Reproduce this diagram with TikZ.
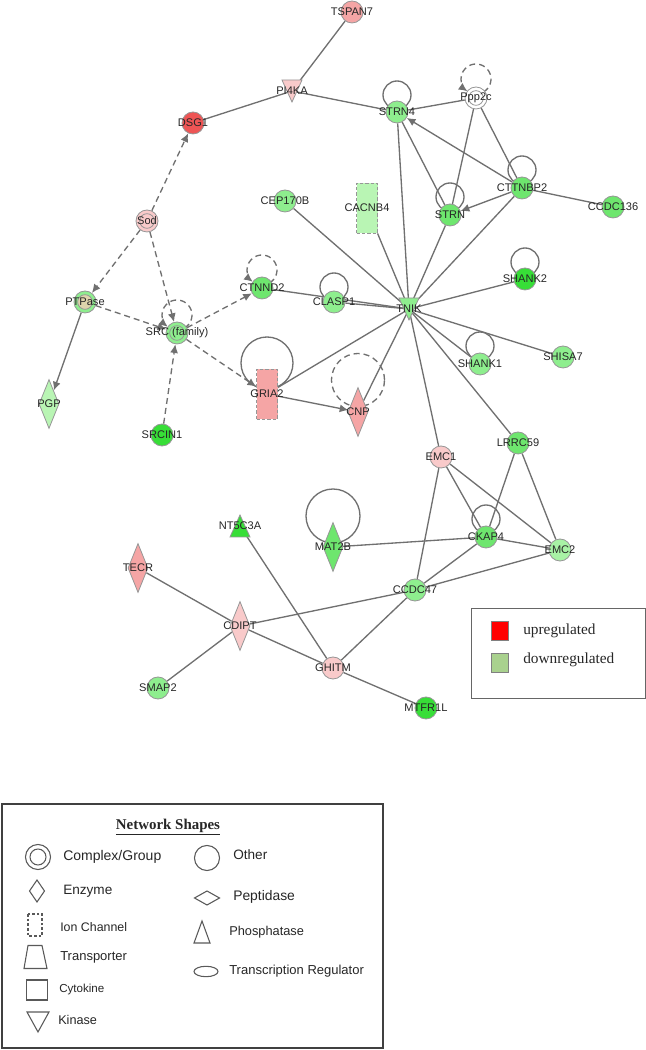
\documentclass[tikz,border=0pt]{standalone}
\usepackage{fontspec}
\setmainfont{Liberation Sans}
\newfontfamily\tmsfont{Liberation Serif}
\usetikzlibrary{shapes.geometric,arrows.meta,calc}
\pgfdeclarelayer{bg}\pgfdeclarelayer{shp}
\pgfsetlayers{bg,shp,main}
\definecolor{edgec}{RGB}{112,112,112}
\definecolor{bordc}{RGB}{150,150,150}
\definecolor{gA}{RGB}{142,238,142}
\definecolor{gB}{RGB}{110,230,110}
\definecolor{gC}{RGB}{55,222,55}
\definecolor{gP}{RGB}{185,245,180}
\definecolor{rA}{RGB}{249,202,202}
\definecolor{rB}{RGB}{245,165,165}
\definecolor{rC}{RGB}{238,85,85}
\definecolor{cplxtan}{RGB}{222,212,172}
\definecolor{legG}{RGB}{169,209,142}
\newcommand{\zw}[1]{\makebox[0pt]{#1}}
\begin{document}
\begin{tikzpicture}[x=0.75pt,y=0.75pt,
  lab/.style={font=\fontsize{8.3}{9}\selectfont, text=black!85, inner sep=0pt},
  gene/.style={lab, circle, draw=bordc, line width=0.6pt, minimum size=16.5pt},
  cplx/.style={gene, path picture={\draw[bordc, line width=0.6pt, fill=#1] (path picture bounding box.center) circle (5.5pt);}},
  enz/.style={lab, diamond, draw=bordc, line width=0.6pt, minimum width=15pt, minimum height=36.75pt},
  ionc/.style={lab, rectangle, draw=bordc, dash pattern=on 2.5pt off 1.5pt, line width=0.6pt, minimum width=15.75pt, minimum height=37.5pt},
  tri/.style={lab, rectangle, minimum width=15pt, minimum height=16.5pt},
  trishape/.style={draw=bordc, line width=0.6pt},
  edge/.style={draw=edgec, line width=1pt},
  dedge/.style={edge, dash pattern=on 4.5pt off 3pt},
  arr/.style={-{Latex[length=6.5pt,width=6pt]}},
  lgs/.style={draw=black!65, line width=0.8pt},
  lgt/.style={anchor=west, inner sep=0pt, text=black!85},
]
\useasboundingbox (0,0) rectangle (646,1050);

% ---------- nodes ----------
\node[gene, fill=rB] (TSPAN7) at (352,1038) {\zw{TSPAN7}};
\node[tri] (PI4KA) at (292,959) {\zw{PI4KA}};
\node[gene, fill=rC] (DSG1) at (193,927) {\zw{DSG1}};
\node[cplx=rA, fill=rA] (Sod) at (147,829) {\zw{Sod}};
\node[gene, fill=gA] (STRN4) at (397,938) {\zw{STRN4}};
\node[cplx=white, fill=white] (Ppp2c) at (476,952) {\zw{Ppp2c}};
\node[gene, fill=gA] (CEP170B) at (285,849) {\zw{CEP170B}};
\node[ionc, fill=gP] (CACNB4) at (367,842) {\zw{CACNB4}};
\node[gene, fill=gB] (STRN) at (450,835) {\zw{STRN}};
\node[gene, fill=gB] (CTTNBP2) at (522,862) {\zw{CTTNBP2}};
\node[gene, fill=gB] (CCDC136) at (613,843) {\zw{CCDC136}};
\node[gene, fill=gB] (CTNND2) at (262,762) {\zw{CTNND2}};
\node[gene, fill=gA] (CLASP1) at (334,748) {\zw{CLASP1}};
\node[tri] (TNIK) at (409,741) {\zw{TNIK}};
\node[gene, fill=gC] (SHANK2) at (525,771) {\zw{SHANK2}};
\node[gene, fill=gA] (SHANK1) at (480,686) {\zw{SHANK1}};
\node[gene, fill=gA] (SHISA7) at (563,693) {\zw{SHISA7}};
\node[cplx=cplxtan, fill=gA] (PTPase) at (85,748) {\zw{PTPase}};
\node[cplx=gA, fill=gA] (SRC) at (177,717) {\zw{SRC (family)}};
\node[ionc, fill=rB] (GRIA2) at (267,656) {\zw{GRIA2}};
\node[enz, fill=rB] (CNP) at (358,638) {\zw{CNP}};
\node[enz, fill=gP] (PGP) at (49,646) {\zw{PGP}};
\node[gene, fill=gC] (SRCIN1) at (162,615) {\zw{SRCIN1}};
\node[gene, fill=rA] (EMC1) at (441,593) {\zw{EMC1}};
\node[gene, fill=gB] (LRRC59) at (518,607) {\zw{LRRC59}};
\node[gene, fill=gB] (CKAP4) at (486,513) {\zw{CKAP4}};
\node[gene, fill=gP!60!gA] (EMC2) at (560,500) {\zw{EMC2}};
\node[enz, fill=gB] (MAT2B) at (333,503) {\zw{MAT2B}};
\node[gene, fill=gA] (CCDC47) at (415,460) {\zw{CCDC47}};
\node[tri] (NT5C3A) at (240,524) {\zw{NT5C3A}};
\node[enz, fill=rB] (TECR) at (138,482) {\zw{TECR}};
\node[enz, fill=rA] (CDIPT) at (240,424) {\zw{CDIPT}};
\node[gene, fill=rA] (GHITM) at (333,382) {\zw{GHITM}};
\node[gene, fill=gA] (SMAP2) at (158,362) {\zw{SMAP2}};
\node[gene, fill=gC] (MTFR1L) at (426,342) {\zw{MTFR1L}};

% ---------- triangle shapes ----------
\begin{pgfonlayer}{shp}
\draw[trishape, fill=rA] ($(PI4KA)+(-10,11)$) -- ($(PI4KA)+(10,11)$) -- ($(PI4KA)+(0,-11)$) -- cycle;
\draw[trishape, fill=gA] ($(TNIK)+(-10,11)$) -- ($(TNIK)+(10,11)$) -- ($(TNIK)+(0,-11)$) -- cycle;
\draw[trishape, fill=gC] ($(NT5C3A)+(-10,-11)$) -- ($(NT5C3A)+(10,-11)$) -- ($(NT5C3A)+(0,11)$) -- cycle;
\end{pgfonlayer}

% ---------- edges ----------
\begin{pgfonlayer}{bg}
\draw[edge] (TSPAN7) -- (PI4KA.center);
\draw[edge] (PI4KA.center) -- (DSG1);
\draw[edge] (PI4KA.center) -- (STRN4);
\draw[dedge, arr] (Sod) -- (DSG1);
\draw[dedge, arr] (Sod) -- (PTPase);
\draw[dedge, arr] (Sod) -- (SRC);
\draw[dedge, arr] (PTPase) -- (SRC);
\draw[dedge, arr] (SRCIN1) -- (SRC);
\draw[dedge, arr] (SRC) -- (CTNND2);
\draw[dedge, arr] (SRC) -- (GRIA2);
\draw[edge, arr] (PTPase) -- (PGP);
\draw[edge, arr] (GRIA2) -- (CNP);
\draw[edge, arr] (CTTNBP2) -- (STRN4);
\draw[edge, arr] (CTTNBP2) -- (STRN);
\draw[edge] (Ppp2c) -- (STRN4);
\draw[edge] (Ppp2c) -- (STRN);
\draw[edge] (Ppp2c) -- (CTTNBP2);
\draw[edge] (STRN4) -- (STRN);
\draw[edge] (CTTNBP2) -- (CCDC136);
\foreach \n in {STRN4,STRN,CTTNBP2,CEP170B,CACNB4,CTNND2,CLASP1,SHANK2,SHISA7,SHANK1,LRRC59,EMC1,CNP,GRIA2}
  \draw[edge] (TNIK.center) -- (\n);
\draw[edge] (NT5C3A.center) -- (GHITM);
\draw[edge] (TECR) -- (CDIPT);
\draw[edge] (CDIPT) -- (SMAP2);
\draw[edge] (CDIPT) -- (GHITM);
\draw[edge] (CDIPT) -- (CCDC47);
\draw[edge] (GHITM) -- (CCDC47);
\draw[edge] (GHITM) -- (MTFR1L);
\draw[edge] (MAT2B) -- (CKAP4);
\draw[edge] (CCDC47) -- (EMC1);
\draw[edge] (CCDC47) -- (CKAP4);
\draw[edge] (CCDC47) -- (EMC2);
\draw[edge] (EMC1) -- (CKAP4);
\draw[edge] (EMC1) -- (EMC2);
\draw[edge] (LRRC59) -- (CKAP4);
\draw[edge] (LRRC59) -- (EMC2);
\draw[edge] (CKAP4) -- (EMC2);
% self loops
\draw[edge] ($(STRN4)+(0,17)$) circle (10.5pt);
\draw[edge] ($(STRN)+(0,18)$) circle (10.5pt);
\draw[edge] ($(CTTNBP2)+(0,18)$) circle (10.5pt);
\draw[edge] ($(CLASP1)+(0,15)$) circle (10.5pt);
\draw[edge] ($(SHANK2)+(0,17)$) circle (10.5pt);
\draw[edge] ($(SHANK1)+(0,18)$) circle (10.5pt);
\draw[edge] ($(CKAP4)+(0,18)$) circle (10.5pt);
\draw[edge] ($(GRIA2)+(0,31)$) circle (19.5pt);
\draw[dedge] ($(CNP)+(0,32)$) circle (19.9pt);
\draw[edge] ($(MAT2B)+(0,31)$) circle (20.25pt);
\draw[dedge, arr] ($(CTNND2)+(0,18)+(-60:15)$) arc[start angle=-60, end angle=232, radius=15];
\draw[dedge, arr] ($(SRC)+(0,18)+(-60:15)$) arc[start angle=-60, end angle=232, radius=15];
\draw[dedge, arr] ($(Ppp2c)+(0,19)+(-60:15)$) arc[start angle=-60, end angle=235, radius=15];
\end{pgfonlayer}

% ---------- regulation legend ----------
\draw[draw=black!60, line width=0.7pt] (471,442) rectangle (645,352);
\node[draw=black!50, fill=red, minimum width=12.75pt, minimum height=14.25pt, inner sep=0pt] (upsq) at (499.5,419.5) {};
\node[draw=black!50, fill=legG, minimum width=12.75pt, minimum height=14.25pt, inner sep=0pt] (dnsq) at (499.5,387.5) {};
\node[lgt, font=\tmsfont\fontsize{11.5}{13}\selectfont] (uptxt) at (523,419) {upregulated};
\node[lgt, font=\tmsfont\fontsize{11.5}{13}\selectfont] (dntxt) at (523,390) {downregulated};

% ---------- network shapes legend ----------
\draw[draw=black!75, line width=1.1pt] (2,246) rectangle (383,2);
\node[font=\tmsfont\bfseries\fontsize{11.2}{13}\selectfont, text=black!85] (nstitle) at (168,223) {\underline{Network Shapes}};
\draw[lgs] (38,193) circle (9.4pt);
\draw[lgs] (38,193) circle (6pt);
\draw[lgs] (37,170) -- (44.5,159) -- (37,148) -- (29.5,159) -- cycle;
\draw[lgs, dash pattern=on 2pt off 1.5pt] (28,136) rectangle (42,114);
\draw[lgs] (28,104.5) -- (42,104.5) -- (47,81.5) -- (24,81.5) -- cycle;
\draw[lgs] (26.5,70) rectangle (47.5,50);
\draw[lgs] (27,38) -- (49,38) -- (38,18) -- cycle;
\draw[lgs] (207,192) circle (9.4pt);
\draw[lgs] (194.5,152) -- (207,159) -- (219.5,152) -- (207,145) -- cycle;
\draw[lgs] (194,107) -- (210,107) -- (202,129) -- cycle;
\draw[lgs] (206,78.5) ellipse [x radius=9pt, y radius=3.9pt];
\node[lgt, font=\fontsize{10.5}{12}\selectfont] (lcx) at (63,193) {Complex/Group};
\node[lgt, font=\fontsize{10.2}{12}\selectfont] (lenz) at (63,159) {Enzyme};
\node[lgt, font=\fontsize{9.3}{11}\selectfont] (lion) at (60,123) {Ion Channel};
\node[lgt, font=\fontsize{9.75}{11}\selectfont] (ltr) at (60,93) {Transporter};
\node[lgt, font=\fontsize{8.7}{10}\selectfont] (lcyt) at (59,60) {Cytokine};
\node[lgt, font=\fontsize{9.5}{11}\selectfont] (lkin) at (58,30) {Kinase};
\node[lgt, font=\fontsize{10.2}{12}\selectfont] (loth) at (233,195) {Other};
\node[lgt, font=\fontsize{10.4}{12}\selectfont] (lpep) at (233,153) {Peptidase};
\node[lgt, font=\fontsize{9.6}{11}\selectfont] (lpho) at (229,118) {Phosphatase};
\node[lgt, font=\fontsize{9.75}{11}\selectfont] (ltrr) at (229,79) {Transcription Regulator};
\end{tikzpicture}
\end{document}
